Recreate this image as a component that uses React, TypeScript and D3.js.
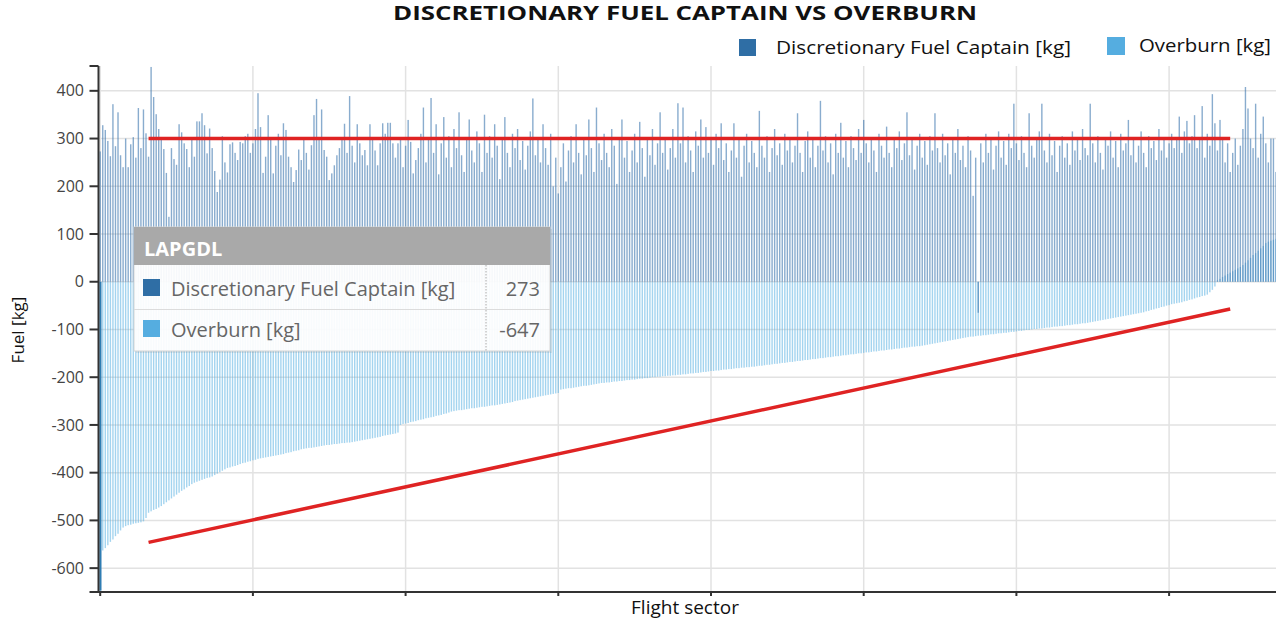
import React from "react";
import * as d3 from "d3";

// Discretionary fuel carried by the captain, per flight sector [kg]
const discretionary: number[] = [
  // 0
  273, 328, 318, 295, 263, 372, 284, 355, 265, 240,
  300, 240, 288, 303, 260, 364, 280, 361, 311, 262,
  450, 387, 351, 320, 297, 278, 228, 136, 280, 257,
  245, 330, 313, 290, 278, 240, 297, 262, 336, 336,
  353, 328, 269, 321, 280, 232, 188, 214, 305, 250,
  229, 288, 292, 270, 255, 293, 290, 305, 310, 270,
  290, 320, 395, 324, 228, 262, 349, 300, 227, 285,
  // 70
  310, 265, 332, 318, 262, 240, 209, 234, 277, 255,
  300, 270, 235, 286, 349, 383, 300, 361, 276, 262,
  213, 227, 244, 265, 280, 300, 331, 270, 389, 285,
  250, 330, 290, 265, 276, 244, 330, 300, 275, 244,
  290, 332, 310, 333, 333, 290, 260, 290, 297, 240,
  285, 339, 293, 227, 255, 280, 310, 365, 250, 300,
  385, 270, 330, 225, 290, 345, 260, 305, 240, 320,
  // 140
  280, 355, 265, 230, 300, 340, 275, 250, 315, 290,
  230, 350, 270, 305, 260, 330, 285, 215, 300, 345,
  270, 240, 310, 280, 320, 255, 295, 235, 285, 315,
  384, 265, 300, 250, 330, 280, 245, 310, 200, 260,
  185, 240, 290, 210, 275, 305, 250, 330, 270, 225,
  300, 265, 340, 280, 230, 365, 290, 255, 310, 270,
  240, 320, 285, 205, 300, 340, 260, 295, 230, 275,
  // 210
  310, 250, 335, 280, 220, 300, 265, 320, 245, 290,
  355, 270, 300, 235, 280, 320, 260, 374, 290, 365,
  250, 305, 275, 230, 315, 285, 340, 260, 324, 270,
  300, 245, 310, 280, 332, 255, 290, 230, 275, 332,
  260, 300, 220, 285, 310, 250, 295, 270, 240, 358,
  285, 260, 305, 230, 280, 320, 265, 290, 245, 310,
  275, 300, 250, 285, 353, 270, 230, 295, 315, 260,
  // 280
  300, 240, 285, 379, 275, 305, 250, 290, 225, 310,
  270, 333, 260, 295, 240, 305, 280, 255, 320, 270,
  339, 290, 250, 300, 275, 230, 310, 285, 260, 325,
  270, 240, 300, 280, 315, 255, 290, 355, 265, 300,
  235, 285, 310, 260, 295, 245, 305, 275, 353, 280,
  250, 310, 265, 290, 225, 300, 270, 320, 255, 285,
  240, 305, 275, 180, 260, -65, 290, 250, 310, 270,
  // 350
  300, 235, 285, 315, 260, 295, 245, 310, 280, 373,
  290, 255, 305, 270, 240, 353, 285, 260, 300, 315,
  373, 275, 250, 310, 265, 295, 230, 285, 305, 260,
  290, 245, 315, 275, 300, 255, 320, 280, 265, 373,
  290, 250, 305, 270, 235, 300, 285, 315, 260, 295,
  240, 310, 275, 290, 339, 265, 300, 250, 285, 315,
  270, 240, 305, 280, 295, 255, 320, 275, 300, 260,
  // 420
  290, 310, 280, 300, 346, 270, 315, 337, 290, 305,
  349, 280, 300, 368, 260, 310, 285, 393, 332, 275,
  339, 300, 250, 290, 230, 270, 300, 245, 285, 320,
  408, 363, 300, 280, 373, 260, 310, 346, 290, 250,
  300, 300, 230, 300,
];

// Overburn per flight sector [kg], sectors sorted by overburn
const overburn: number[] = [
  // 0
  -647, -563, -558, -552, -545, -540, -533, -528, -521, -515,
  -512, -510, -509, -507, -506, -505, -504, -502, -495, -484,
  -481, -478, -476, -473, -470, -466, -462, -458, -454, -450,
  -446, -442, -438, -435, -431, -428, -424, -421, -419, -417,
  -415, -413, -411, -410, -408, -405, -402, -399, -396, -393,
  -390, -389, -387, -386, -384, -382, -380, -379, -377, -376,
  // 60
  -374, -373, -371, -370, -369, -368, -367, -366, -365, -364,
  -363, -362, -361, -359, -358, -357, -355, -354, -353, -351,
  -350, -349, -348, -348, -347, -346, -345, -344, -343, -342,
  -342, -341, -340, -340, -339, -338, -338, -337, -337, -336,
  -335, -334, -333, -332, -331, -330, -329, -328, -327, -326,
  -325, -323, -322, -321, -320, -319, -318, -316, -300, -298,
  // 120
  -297, -296, -294, -293, -292, -290, -289, -288, -286, -285,
  -284, -283, -281, -280, -279, -277, -276, -274, -272, -271,
  -270, -269, -269, -268, -267, -266, -265, -265, -264, -263,
  -262, -262, -261, -260, -259, -259, -258, -257, -256, -255,
  -254, -253, -252, -250, -249, -248, -247, -246, -245, -244,
  -243, -242, -241, -240, -239, -238, -237, -236, -235, -234,
  // 180
  -233, -226, -225, -224, -223, -223, -222, -221, -220, -219,
  -218, -218, -217, -216, -215, -214, -213, -212, -212, -211,
  -211, -210, -209, -209, -208, -208, -207, -206, -206, -205,
  -205, -204, -203, -203, -202, -202, -201, -200, -200, -199,
  -199, -198, -198, -197, -197, -196, -196, -195, -195, -194,
  -194, -193, -192, -192, -191, -191, -190, -189, -189, -188,
  // 240
  -187, -187, -186, -186, -185, -184, -184, -183, -183, -182,
  -181, -181, -180, -180, -179, -179, -178, -178, -177, -176,
  -176, -175, -174, -174, -173, -172, -172, -171, -170, -170,
  -169, -168, -168, -167, -166, -166, -165, -164, -164, -163,
  -162, -162, -161, -160, -160, -159, -158, -158, -157, -156,
  -156, -155, -154, -154, -153, -152, -152, -151, -150, -150,
  // 300
  -149, -148, -148, -147, -146, -146, -145, -144, -144, -143,
  -142, -142, -141, -140, -140, -139, -138, -138, -137, -136,
  -136, -135, -135, -134, -133, -132, -131, -130, -129, -128,
  -127, -126, -125, -124, -123, -122, -121, -120, -119, -118,
  -117, -116, -115, -115, -114, -113, -113, -112, -112, -111,
  -110, -110, -109, -108, -108, -107, -107, -106, -105, -105,
  // 360
  -104, -103, -103, -102, -101, -101, -100, -99, -99, -98,
  -98, -97, -96, -96, -95, -94, -94, -93, -93, -92,
  -91, -91, -90, -89, -89, -88, -87, -87, -86, -85,
  -84, -83, -82, -81, -80, -79, -78, -77, -76, -75,
  -74, -73, -72, -71, -70, -69, -68, -67, -66, -65,
  -64, -62, -61, -59, -58, -56, -55, -53, -52, -50,
  // 420
  -49, -47, -46, -45, -44, -43, -41, -40, -38, -37,
  -35, -33, -32, -30, -29, -27, -22, -17, -10, 3,
  6, 10, 13, 16, 19, 22, 25, 28, 31, 35,
  40, 45, 50, 56, 60, 65, 70, 75, 81, 84,
  86, 88, 90, 92,
];

const yTicks = [-600, -500, -400, -300, -200, -100, 0, 100, 200, 300, 400];
const xTickEvery = 60;

// red annotation lines: [sector index, kg]
const targetLine: [number, number][] = [[19, 300], [444, 300]];
const trendLine: [number, number][] = [[19, -546], [444, -57]];

const tooltipTitle = "LAPGDL";
const tooltipRows = [
  { label: "Discretionary Fuel Captain [kg]", value: discretionary[0], color: "#2f6ea5" },
  { label: "Overburn [kg]", value: overburn[0], color: "#55ade0" },
];

const W = 1276;
const H = 621;
const plot = { left: 98.5, top: 66, bottom: 592, right: W };
const STEP = 2.545;
const PAD = 0.45;

export default function App() {
  const n = Math.min(discretionary.length, overburn.length);
  const idx = d3.range(n);

  const x = d3
    .scaleBand<number>()
    .domain(idx)
    .range([plot.left + 1, plot.left + 1 + STEP * (n - PAD)])
    .paddingInner(PAD);
  const bw = x.bandwidth();
  const cx = (i: number) => (x(i) ?? 0) + bw / 2;

  const y = d3.scaleLinear().domain([-650, 452]).range([plot.bottom, plot.top]);

  const xTicks = idx.filter((i) => i % xTickEvery === 0);

  const line = d3
    .line<[number, number]>()
    .x((d) => cx(d[0]))
    .y((d) => y(d[1]));

  const font = "'Open Sans', 'DejaVu Sans', sans-serif";

  return (
    <svg
      width={W}
      height={H}
      style={{ position: "absolute", left: 0, top: 0, background: "#fff" }}
      fontFamily={font}
    >
      {/* title */}
      <text
        x={685}
        y={20}
        textAnchor="middle"
        fontSize={20}
        fontWeight={700}
        fill="#111"
        textLength={584}
        lengthAdjust="spacingAndGlyphs"
      >
        DISCRETIONARY FUEL CAPTAIN VS OVERBURN
      </text>

      {/* legend */}
      <rect x={739} y={39} width={17} height={17} fill="#2f6ea5" />
      <text x={776} y={54} fontSize={18} fill="#111" textLength={295} lengthAdjust="spacingAndGlyphs">
        Discretionary Fuel Captain [kg]
      </text>
      <rect x={1107} y={37} width={18} height={18} fill="#55ade0" />
      <text x={1139} y={52} fontSize={18} fill="#111" textLength={132} lengthAdjust="spacingAndGlyphs">
        Overburn [kg]
      </text>

      {/* grid */}
      <g stroke="#e2e2e2" strokeWidth={1.5}>
        {yTicks.map((t) => (
          <line key={t} x1={plot.left} x2={plot.right} y1={y(t)} y2={y(t)} />
        ))}
        {xTicks.map((i) => (
          <line key={i} x1={cx(i)} x2={cx(i)} y1={plot.top} y2={plot.bottom} />
        ))}
      </g>

      {/* overburn bars */}
      <g fill="#5ab0e2" fillOpacity={0.55}>
        {idx.map((i) => (
          <rect
            key={i}
            x={x(i)}
            width={bw}
            y={y(Math.max(0, overburn[i]))}
            height={Math.abs(y(overburn[i]) - y(0))}
          />
        ))}
      </g>
      {/* highlighted sector */}
      <rect
        x={x(0)}
        width={bw + 0.6}
        y={y(Math.max(0, overburn[0]))}
        height={Math.abs(y(overburn[0]) - y(0))}
        fill="#2f7db3"
      />

      {/* discretionary bars */}
      <g fill="#3a75ad" fillOpacity={0.6}>
        {idx.map((i) => (
          <rect
            key={i}
            x={x(i)}
            width={bw}
            y={y(Math.max(0, discretionary[i]))}
            height={Math.abs(y(discretionary[i]) - y(0))}
          />
        ))}
      </g>

      {/* red annotations */}
      <path d={line(targetLine) ?? ""} fill="none" stroke="#df2323" strokeWidth={3.5} />
      <path d={line(trendLine) ?? ""} fill="none" stroke="#df2323" strokeWidth={3.5} />

      {/* axes */}
      <g stroke="#333" strokeWidth={2}>
        <line x1={plot.left} x2={plot.left} y1={plot.top} y2={plot.bottom + 1} />
        <line x1={plot.left - 9} x2={plot.right} y1={plot.bottom} y2={plot.bottom} />
        <line x1={plot.left - 9} x2={plot.left} y1={plot.top} y2={plot.top} />
        {yTicks.map((t) => (
          <line key={t} x1={plot.left - 9} x2={plot.left} y1={y(t)} y2={y(t)} />
        ))}
        {xTicks.map((i) => (
          <line key={i} x1={cx(i)} x2={cx(i)} y1={plot.bottom} y2={plot.bottom + 4} />
        ))}
      </g>
      <g fontSize={16} fill="#444" textAnchor="end">
        {yTicks.map((t) => (
          <text key={t} x={84} y={y(t)} dy="0.35em">
            {t}
          </text>
        ))}
      </g>
      <text
        transform="translate(24,330) rotate(-90)"
        textAnchor="middle"
        fontSize={17}
        fill="#111"
      >
        Fuel [kg]
      </text>
      <text x={685} y={614} textAnchor="middle" fontSize={19} fill="#111">
        Flight sector
      </text>

      {/* tooltip */}
      <g>
        <rect x={136} y={229} width={416} height={124} fill="#000" opacity={0.08} />
        <rect x={134} y={227} width={416} height={124} fill="#fff" fillOpacity={0.93} stroke="#d4d4d4" />
        <rect x={134} y={227} width={416} height={38} fill="#a9a9a9" />
        <text x={144} y={256} fontSize={20} fontWeight={700} fill="#fff">
          {tooltipTitle}
        </text>
        <line x1={134} x2={550} y1={309.5} y2={309.5} stroke="#dcdcdc" />
        <line x1={486} x2={486} y1={265} y2={351} stroke="#aaa" strokeDasharray="1.5 1.5" />
        {tooltipRows.map((r, k) => (
          <g key={r.label} transform={`translate(0,${k * 41})`}>
            <rect x={143} y={279} width={17} height={17} fill={r.color} />
            <text x={171} y={296} fontSize={20} fill="#666">
              {r.label}
            </text>
            <text x={540} y={296} fontSize={20} fill="#666" textAnchor="end">
              {r.value}
            </text>
          </g>
        ))}
      </g>
    </svg>
  );
}
